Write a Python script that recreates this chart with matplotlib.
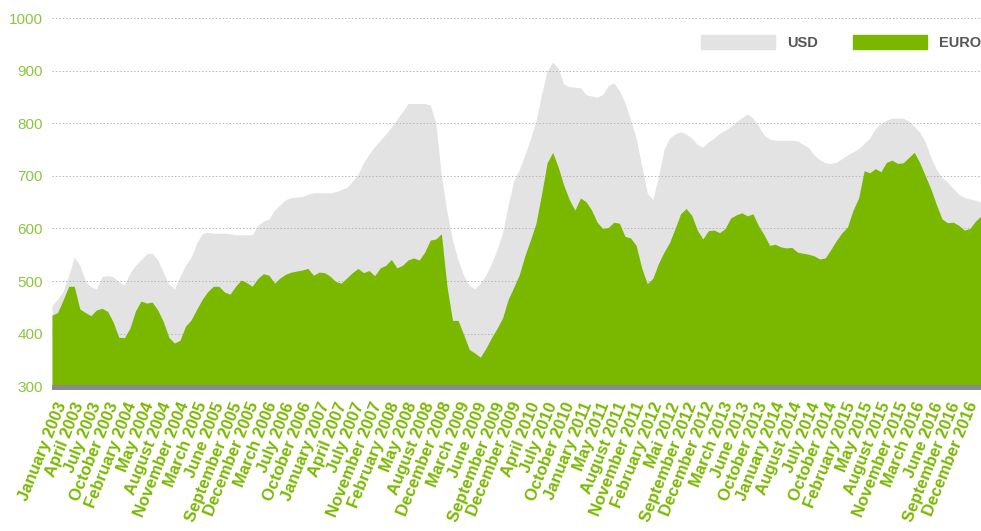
import numpy as np
import matplotlib
matplotlib.use("Agg")
import matplotlib.pyplot as plt
from matplotlib.patches import Patch

# monthly prices, January 2003 .. December 2016
usd = [454, 465, 480, 510, 546, 530, 500, 489, 485, 509, 510, 508,
       499, 492, 515, 530, 540, 552, 553, 540, 517, 494, 485, 508,
       530, 545, 572, 590, 593, 591, 591, 591, 590, 588, 588, 588,
       588, 606, 614, 618, 635, 645, 655, 659, 660, 661, 665, 668,
       668, 668, 668, 670, 674, 678, 690, 703, 725, 742, 756, 768,
       780, 793, 808, 822, 838, 838, 838, 838, 835, 800, 700, 632,
       578, 540, 510, 492, 485, 496, 512, 533, 560, 592, 645, 690,
       712, 740, 770, 805, 855, 900, 917, 905, 875, 870, 869, 868,
       855, 852, 850, 855, 872, 877, 862, 840, 807, 772, 720, 668,
       655, 698, 750, 772, 780, 784, 780, 772, 760, 755, 765, 772,
       781, 787, 794, 803, 811, 818, 810, 795, 778, 770, 768, 768,
       768, 768, 767, 760, 754, 740, 731, 725, 724, 726, 733, 740,
       746, 752, 762, 772, 790, 800, 806, 810, 810, 810, 805, 794,
       783, 764, 735, 712, 697, 688, 676, 665, 659, 656, 654, 650]

euro = [435, 440, 464, 490, 490, 447, 440, 434, 445, 448, 442, 422,
        393, 392, 410, 443, 462, 458, 460, 445, 423, 393, 382, 387,
        414, 426, 446, 465, 480, 490, 490, 479, 475, 490, 502, 497,
        490, 505, 514, 511, 496, 506, 513, 517, 519, 521, 524, 511,
        517, 516, 509, 499, 496, 506, 516, 524, 516, 520, 510, 525,
        530, 541, 525, 530, 540, 544, 540, 555, 578, 580, 590, 490,
        425, 425, 398, 370, 363, 355, 372, 392, 410, 430, 465, 488,
        512, 548, 578, 610, 665, 725, 745, 717, 682, 655, 635, 658,
        651, 635, 612, 600, 602, 612, 610, 585, 582, 568, 525, 495,
        505, 533, 555, 573, 600, 628, 638, 625, 597, 580, 596, 597,
        592, 600, 620, 626, 630, 624, 628, 605, 588, 568, 570, 565,
        563, 564, 555, 553, 551, 548, 542, 544, 560, 577, 592, 603,
        635, 658, 710, 706, 714, 708, 726, 730, 724, 725, 735, 745,
        725, 700, 675, 645, 618, 611, 612, 606, 597, 600, 614, 624]

tick_labels = [
    "January 2003", "April 2003", "July 2003", "October 2003",
    "February 2004", "May 2004", "August 2004", "November 2004",
    "March 2005", "June 2005", "September 2005", "December 2005",
    "March 2006", "July 2006", "October 2006",
    "January 2007", "April 2007", "July 2007", "November 2007",
    "February 2008", "May 2008", "August 2008", "December 2008",
    "March 2009", "June 2009", "September 2009", "December 2009",
    "April 2010", "July 2010", "October 2010",
    "January 2011", "May 2011", "August 2011", "November 2011",
    "February 2012", "Mai 2012", "September 2012", "December 2012",
    "March 2013", "June 2013", "October 2013",
    "January 2014", "August 2014", "July 2014", "October 2014",
    "February 2015", "May 2015", "August 2015", "November 2015",
    "March 2016", "June 2016", "September 2016", "December 2016",
]

GREEN = "#7ab800"
LABEL_GREEN = "#8cc63f"
GREY = "#e3e3e3"

plt.rcParams["font.family"] = ["Liberation Sans", "DejaVu Sans"]

fig = plt.figure(figsize=(9.81, 5.31), dpi=100)
ax = fig.add_axes([0.053, 0.265, 0.947, 0.735])

months = np.arange(len(usd))
base = 302

ax.fill_between(months, usd, base, color=GREY, lw=0, zorder=1)
ax.fill_between(months, euro, base, color=GREEN, lw=0, zorder=3)
ax.axhspan(292, base, color="#8a8a8a", lw=0, zorder=4)

for v in range(400, 1001, 100):
    ax.axhline(v, color="#b5b5b5", lw=0.7, ls=(0, (1.5, 2)), zorder=2)

ax.set_xlim(0, len(usd) - 1)
ax.set_ylim(292, 1035)

ax.set_yticks(range(300, 1001, 100))
ax.tick_params(axis="y", length=0, pad=6.5, labelsize=11, labelcolor=LABEL_GREEN)

ax.set_xticks(np.linspace(1.8, 165.7, len(tick_labels)))
ax.set_xticklabels(tick_labels, rotation=68, ha="right", va="center",
                   rotation_mode="anchor", color=GREEN, fontsize=12,
                   fontweight="bold")
ax.tick_params(axis="x", length=0, pad=9)

for s in ax.spines.values():
    s.set_visible(False)

handles = [Patch(color=GREY, label="USD"), Patch(color=GREEN, label="EURO")]
fig.legend(handles=handles, loc="upper left", bbox_to_anchor=(694 / 981, 1 - 28 / 531),
           ncol=2, frameon=False, borderpad=0, handlelength=5.07,
           handleheight=1.03, handletextpad=0.82, columnspacing=2.4,
           labelcolor="#555555", prop={"weight": "bold", "size": 10.5})

fig.savefig("out.png", dpi=100)
